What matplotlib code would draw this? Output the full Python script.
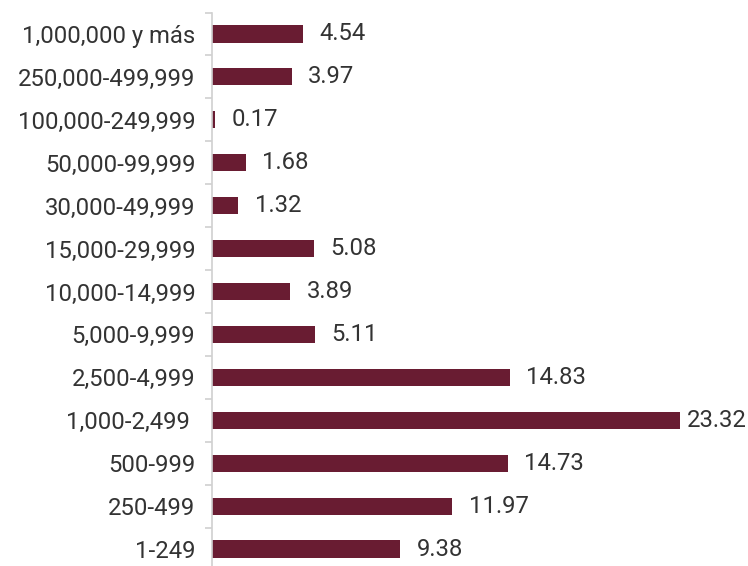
import numpy as np
import matplotlib.pyplot as plt

rangos = ['1-249', '250-499', '500-999', '1,000-2,499 ', '2,500-4,999', '5,000-9,999',
          '10,000-14,999', '15,000-29,999', '30,000-49,999', '50,000-99,999',
          '100,000-249,999', '250,000-499,999', '1,000,000 y más']
valores = [9.38, 11.97, 14.73, 23.32, 14.83, 5.11, 3.89, 5.08, 1.32, 1.68, 0.17, 3.97, 4.54]

plt.rcParams['font.family'] = ['Roboto', 'DejaVu Sans']

fig = plt.figure(figsize=(7.48, 5.66), dpi=100)
# axes spans a bit past the bottom edge, like the reference
ax = fig.add_axes([212/748, -4.5/566, 501.75/748, 558/566])

y = np.arange(len(rangos))
ax.barh(y, valores, height=0.4, color='#691c32')
ax.set_ylim(-0.5, len(rangos) - 0.5)
ax.set_xlim(0, 25)

for yi, v in zip(y, valores):
    # the longest label is pulled in so it stays inside the figure
    off = 5 if v == max(valores) else 12
    ax.annotate(f'{v:.2f}', (v, yi), xytext=(off, 0), textcoords='offset points',
                ha='left', va='center', fontsize=17.2, color='#333333')

ax.set_yticks(y)
ax.set_yticklabels(rangos, fontsize=17.2, color='#333333')
ax.set_yticks(np.arange(-0.5, len(rangos)), minor=True)
ax.tick_params(axis='y', which='major', length=0, pad=12)
ax.tick_params(axis='y', which='minor', length=5, color='#d0d0d0', width=1.2)
ax.set_xticks([])

for s in ['top', 'right', 'bottom']:
    ax.spines[s].set_visible(False)
ax.spines['left'].set_color('#d0d0d0')
ax.spines['left'].set_linewidth(1.2)

fig.savefig('out.png', dpi=100)
